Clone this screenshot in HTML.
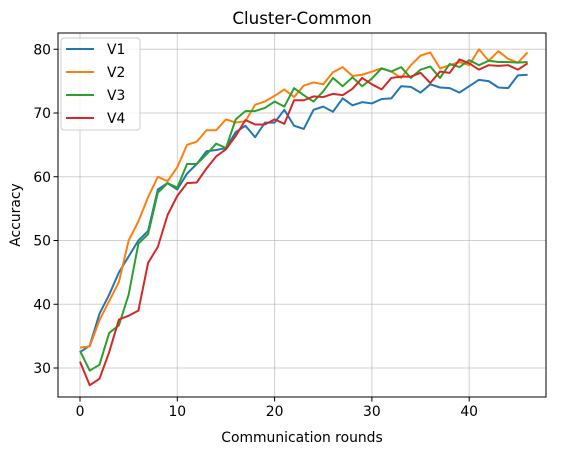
<!DOCTYPE html>
<html><head><meta charset="utf-8"><style>
body{margin:0;background:#fff;font-family:"Liberation Sans","DejaVu Sans",sans-serif}
svg text{font-family:"DejaVu Sans","Liberation Sans",sans-serif;fill:#000}
</style></head><body>
<svg id="c" width="562" height="455" viewBox="0 0 562 455"></svg>
<script>
const rounds=[...Array(47).keys()];
const v1=[32.5,33.5,38.5,41.5,45,47.5,50,51.5,58,59,58,60.5,62,64,64.2,64.5,67,68,66.2,68.5,68.5,70.5,68,67.5,70.5,71,70.2,72.3,71.2,71.7,71.5,72.2,72.3,74.2,74.1,73.2,74.5,74,73.9,73.2,74.2,75.2,75,74,73.9,75.9,76];
const v2=[33.2,33.4,37.5,40.5,43.5,50,53,56.8,60,59.3,61.5,65,65.5,67.3,67.3,69,68.5,68.7,71.3,71.8,72.7,73.7,72.5,74.3,74.8,74.5,76.4,77.2,75.8,76,76.5,77,76.5,75.5,77.5,79,79.5,77,77.5,78,77.5,80,78.2,79.7,78.5,77.9,79.5];
const v3=[32.7,29.6,30.5,35.5,36.7,41.5,49.5,51,57.5,59,58.3,62,62,63.5,65.2,64.5,69,70.3,70.3,70.8,71.8,71,73.9,72.8,71.8,73.4,75.5,74.2,75.6,74.2,75.4,77,76.5,77.2,75.5,76.8,77.3,75.5,77.7,77.2,78.3,77.5,78.2,78,78,77.9,78];
const v4=[31,27.3,28.3,32.5,37.6,38.2,39,46.5,49,54,57,59,59.1,61.3,63.2,64.3,66.4,68.9,68.2,68.2,69,68.3,72,72,72.6,72.5,73,72.8,73.8,75.5,74.5,73.7,75.5,75.7,75.7,76.3,74.7,76.5,76.3,78.4,77.8,76.8,77.5,77.4,77.5,76.8,77.8];
const seriesNames=["V1","V2","V3","V4"];
const xTicks=[0,10,20,30,40];
const yTicks=[30,40,50,60,70,80];
const colors=["#1f77b4","#ff7f0e","#2ca02c","#d62728"];
const L=58,R=546,T=33,B=397;
const sx=x=>80+x*9.73, sy=v=>368-(v-30)*6.375;
const svg=document.getElementById('c');const NS="http://www.w3.org/2000/svg";
function mk(t,a,p){const e=document.createElementNS(NS,t);for(const k in a)e.setAttribute(k,a[k]);(p||svg).appendChild(e);return e;}
let e;
xTicks.forEach(t=>{
 e=mk('line',{x1:sx(t),x2:sx(t),y1:T,y2:B,stroke:'#b0b0b0','stroke-opacity':0.6,'stroke-width':1});
 
 mk('line',{x1:sx(t),x2:sx(t),y1:B,y2:B+4.5,stroke:'#000','stroke-width':1});
 e=mk('text',{x:sx(t),y:B+19,'text-anchor':'middle','font-size':13.9});e.textContent=t;
 
});
yTicks.forEach(t=>{
 e=mk('line',{x1:L,x2:R,y1:sy(t),y2:sy(t),stroke:'#b0b0b0','stroke-opacity':0.6,'stroke-width':1});
 
 mk('line',{x1:L-4.5,x2:L,y1:sy(t),y2:sy(t),stroke:'#000','stroke-width':1});
 e=mk('text',{x:L-7,y:sy(t)+5,'text-anchor':'end','font-size':13.9});e.textContent=t;
 
});
[v1,v2,v3,v4].forEach((d,i)=>{
 e=mk('polyline',{points:d.map((v,j)=>sx(rounds[j])+','+sy(v)).join(' '),fill:'none',stroke:colors[i],'stroke-width':2,'stroke-linejoin':'round'});
 
});
e=mk('rect',{x:L,y:T,width:R-L,height:B-T,fill:'none',stroke:'#000','stroke-width':1});

e=mk('text',{x:(L+R)/2,y:T-9,'text-anchor':'middle','font-size':16.7});e.textContent='Cluster-Common';

e=mk('text',{x:(L+R)/2,y:442,'text-anchor':'middle','font-size':13.9});e.textContent='Communication rounds';

e=mk('text',{x:20,y:(T+B)/2,'text-anchor':'middle','font-size':13.9,transform:'rotate(-90 20 '+(T+B)/2+')'});e.textContent='Accuracy';

const lg=mk('g',{});
mk('rect',{x:61,y:38,width:79,height:92,rx:3,fill:'#fff','fill-opacity':0.8,stroke:'#ccc','stroke-width':1},lg);
seriesNames.forEach((n,i)=>{
 const y=49+i*23;
 const g=mk('g',{},lg);
 
 mk('line',{x1:66,x2:94,y1:y,y2:y,stroke:colors[i],'stroke-width':2},g);
 const t=mk('text',{x:107,y:y+5,'font-size':13.9},g);t.textContent=n;
});
</script>
</body></html>
